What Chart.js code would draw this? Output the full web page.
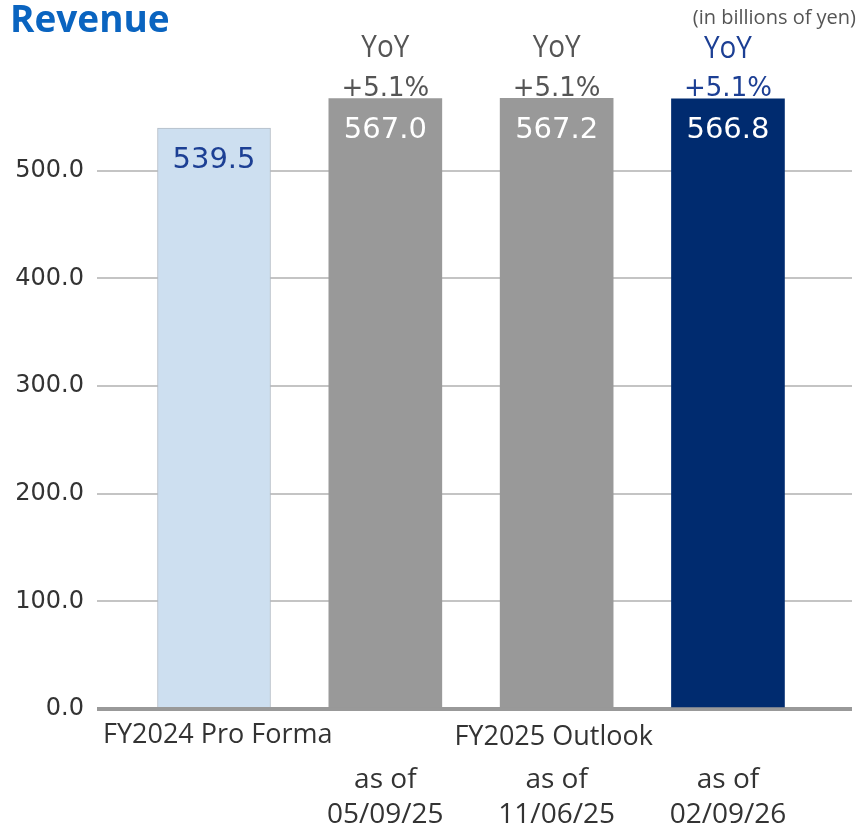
<!DOCTYPE html>
<html>
<head>
<meta charset="utf-8">
<script src="https://cdn.jsdelivr.net/npm/chart.js@4"></script>
<style>
body{margin:0;background:#fff}
#wrap{position:relative;width:861px;height:830px}
</style>
</head>
<body>
<div id="wrap"><canvas id="myChart"></canvas></div>
<script>
// chart values
const positions=[0,1,2,3]
const revenue=[539.5,567.0,567.2,566.8]
const valueText=['539.5','567.0','567.2','566.8']
const yoyText=['','+5.1%','+5.1%','+5.1%']
const asOfDates=['','05/09/25','11/06/25','02/09/26']
const groupLabels=['FY2024 Pro Forma','FY2025 Outlook']
const yTicks=[0,100,200,300,400,500]
const titleText='Revenue'
const unitText='(in billions of yen)'

const barColors=['#cddff0','#999999','#999999','#002b6f']
const valueColors=['#1c3f94','#ffffff','#ffffff','#ffffff']
const yoyColors=['#555555','#555555','#555555','#1c3f94']

var ctx=document.getElementById('myChart').getContext('2d')

const textPlugin={
  id:'textPlugin',
  afterDraw(chart){
    const c=chart.ctx
    const meta=chart.getDatasetMeta(0)
    c.save()
    // title + unit
    c.textBaseline='alphabetic'
    c.textAlign='left'
    c.fillStyle='#0a64c0'
    c.font='bold 37px "Open Sans"'
    c.fillText(titleText,10,32)
    c.textAlign='right'
    c.fillStyle='#555'
    c.font='20px "Open Sans"'
    c.fillText(unitText,856,24)

    c.textAlign='center'
    c.textBaseline='middle'
    meta.data.forEach((bar,i)=>{
      // value inside bar
      c.font='29px "DejaVu Sans"'
      c.fillStyle=valueColors[i]
      c.fillText(valueText[i],bar.x,bar.y+32)
      if(yoyText[i]){
        // YoY is a narrow font in the original, squeeze it a little
        c.save()
        c.translate(bar.x,bar.y-50)
        c.scale(0.9,1)
        c.font='31px "Open Sans"'
        c.fillStyle=yoyColors[i]
        c.fillText('YoY',0,0)
        c.restore()
        c.font='26px "DejaVu Sans"'
        c.lineWidth=4
        c.lineJoin='round'
        c.strokeStyle='#fff'
        c.fillStyle=yoyColors[i]
        c.strokeText(yoyText[i],bar.x,bar.y-9)
        c.fillText(yoyText[i],bar.x,bar.y-9)
      }
      if(asOfDates[i]){
        c.font='28px "Open Sans"'
        c.fillStyle='#333'
        c.fillText('as of',bar.x,780)
        c.fillText(asOfDates[i],bar.x,815)
      }
    })
    // group labels
    c.font='27px "Open Sans"'
    c.fillStyle='#333'
    c.textAlign='left'
    c.fillText(groupLabels[0],chart.chartArea.left+6,735)
    c.textAlign='center'
    c.fillText(groupLabels[1],meta.data[2].x-3,737)
    c.restore()
  }
}

let myChart=new Chart(ctx,{
  type:'bar',
  data:{
    datasets:[{
      data:positions.map((p,i)=>({x:p,y:revenue[i]})),
      backgroundColor:barColors,
      borderColor:['#b3bcc6','#999999','#999999','#002b6f'],
      borderWidth:[1,0,0,0],
      barThickness:113
    }]
  },
  options:{
    responsive:true,
    maintainAspectRatio:false,
    animation:false,
    layout:{padding:{top:63,bottom:121,left:0,right:9}},
    plugins:{legend:{display:false},tooltip:{enabled:false}},
    scales:{
      x:{
        type:'linear',
        offset:false,
        bounds:'data',
        min:-0.683,
        max:3.724,
        display:false
      },
      y:{
        min:0,
        max:600,
        afterBuildTicks(scale){
          scale.ticks=yTicks.map(v=>({value:v}))
        },
        afterFit(scale){
          scale.width=97
        },
        border:{display:false},
        grid:{
          drawTicks:false,
          color:c=>c.tick&&c.tick.value===0?'#999999':'#c4c4c4',
          lineWidth:c=>c.tick&&c.tick.value===0?4:2
        },
        ticks:{
          padding:13,
          color:'#333',
          font:{family:'DejaVu Sans',size:24},
          callback:v=>v.toFixed(1)
        }
      }
    }
  },
  plugins:[textPlugin]
})
</script>
</body>
</html>
